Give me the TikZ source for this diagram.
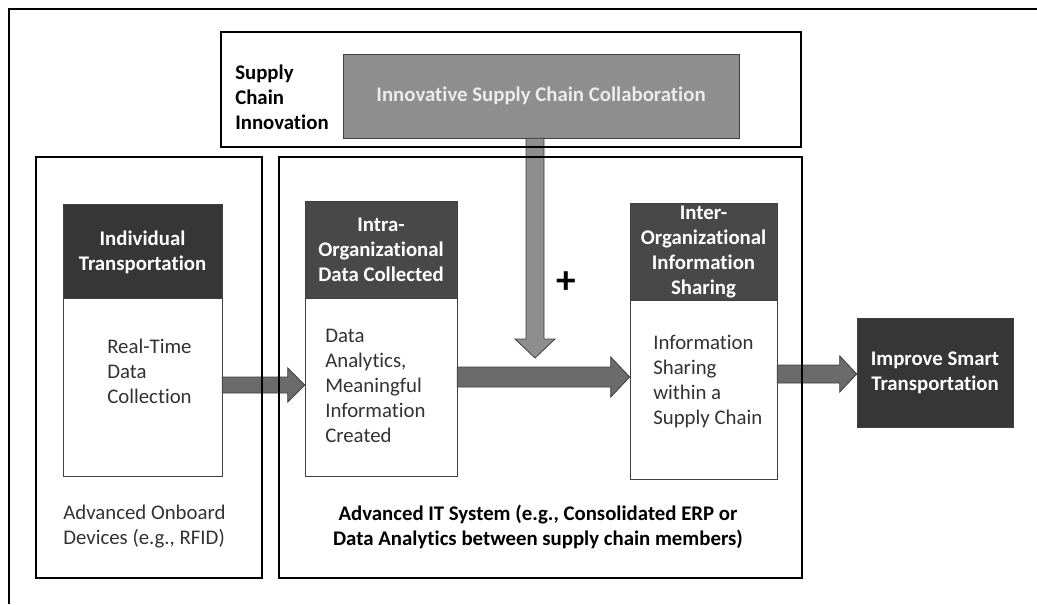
\documentclass[tikz,border=0pt]{standalone}
\usepackage{fontspec}
\setmainfont{Carlito}[Ligatures=NoCommon]
\usepackage{tikz}
\usetikzlibrary{calc}

\newdimen\pxu \pxu=0.025cm

\begin{document}
\begin{tikzpicture}[x=0.025cm,y=-0.025cm,
	every node/.style={font=\fontsize{14.8}{17.8}\selectfont},
	hdbox/.style={draw=black!75, fill=hdark, text=white, align=center, inner sep=0pt,
		font=\fontsize{14.8}{17.8}\selectfont\bfseries},
	bodybox/.style={draw=black!75, fill=white, inner sep=0pt},
	bodytext/.style={anchor=north west, align=left, inner sep=0pt, text=txtgray},
	frame/.style={draw=black, line width=1.5pt},
	blockarr/.style={fill=arrgray, draw=black!75, line width=0.6pt}]
				% 颜色列表
				\definecolor{hdark}{RGB}{54,54,54}
				\definecolor{hmid}{RGB}{72,72,72}
				\definecolor{lgray}{RGB}{142,142,142}
				\definecolor{arrgray}{RGB}{107,107,107}
				\definecolor{txtgray}{RGB}{50,50,50}
				\useasboundingbox (0,0) rectangle (1037,604);
				
				% 上方灰色框
				\node[hdbox, fill=lgray, text=white!92!black, minimum width=396\pxu, minimum height=84\pxu] (collab) at (541,96) {Innovative Supply Chain Collaboration};
				\node[anchor=north west, align=left, inner sep=0pt, font=\fontsize{14.8}{17.8}\selectfont\bfseries] (sci) at (235,65) {Supply\\Chain\\Innovation};
				
				% 三组方框
				\node[hdbox, minimum width=159\pxu, minimum height=96\pxu] (indT) at (142.5,252) {Individual\\Transportation};
				\node[bodybox, minimum width=159\pxu, minimum height=178\pxu] (indB) at (142.5,387) {};
				\node[bodytext] (rt) at (107,339) {Real-Time\\Data\\Collection};
				
				\node[hdbox, fill=hmid, minimum width=152\pxu, minimum height=98\pxu] (intT) at (381,250) {Intra-\\Organizational\\Data Collected};
				\node[bodybox, minimum width=152\pxu, minimum height=178\pxu] (intB) at (381,387) {};
				\node[bodytext] (da) at (325,329) {Data\\Analytics,\\Meaningful\\Information\\Created};
				
				\node[hdbox, fill=hmid, minimum width=147\pxu, minimum height=98\pxu] (itrT) at (703.5,252) {Inter-\\Organizational\\Information\\Sharing};
				\node[bodybox, minimum width=147\pxu, minimum height=179\pxu] (itrB) at (703.5,389.5) {};
				\node[bodytext] (is) at (653,335) {Information\\Sharing\\within a\\Supply Chain};
				
				\node[hdbox, minimum width=156\pxu, minimum height=109\pxu] (imp) at (935,372.5) {Improve Smart\\Transportation};
				
				% 说明文字
				\node[bodytext] (onb) at (63,505) {Advanced Onboard\\Devices (e.g., RFID)};
				\node[anchor=north, align=center, inner sep=0pt, font=\fontsize{14.8}{17.8}\selectfont\bfseries] (its) at (538,505) {Advanced IT System (e.g., Consolidated ERP or\\Data Analytics between supply chain members)};
				\node[inner sep=0pt, font=\fontsize{28}{30}\selectfont\bfseries] (plus) at (566,283) {+};
				
				% 粗箭头
				\foreach \s/\e/\y/\w/\hw/\hl in {indB/intB/385/8/17/17, intB/itrB/377/10/20/19, itrB/imp/374/9/18/17}{
					\path (\s.east |- 0,\y) coordinate (p) (\e.west |- 0,\y) coordinate (q);
					\draw[blockarr] ($(p)+(0,-\w)$) -- ($(q)+(-\hl,-\w)$) -- ($(q)+(-\hl,-\hw)$) -- (q)
						-- ($(q)+(-\hl,\hw)$) -- ($(q)+(-\hl,\w)$) -- ($(p)+(0,\w)$) -- cycle;
				}
				\coordinate (vtip) at (535,358);
				\path (535,0 |- collab.south) coordinate (vs);
				\draw[blockarr, fill=lgray] ($(vs)+(-9,0)$) -- ($(vtip)+(-9,-19)$) -- ($(vtip)+(-20,-19)$) -- (vtip)
					-- ($(vtip)+(20,-19)$) -- ($(vtip)+(9,-19)$) -- ($(vs)+(9,0)$) -- cycle;
				
				% 外框
				\draw[frame] (221,32) rectangle (801,147);
				\draw[frame] (36,157) rectangle (262,578);
				\draw[frame] (279,157) rectangle (802,578);
				\draw[frame] (9,604) -- (9,9) -- (1037,9);
			\end{tikzpicture}
\end{document}
